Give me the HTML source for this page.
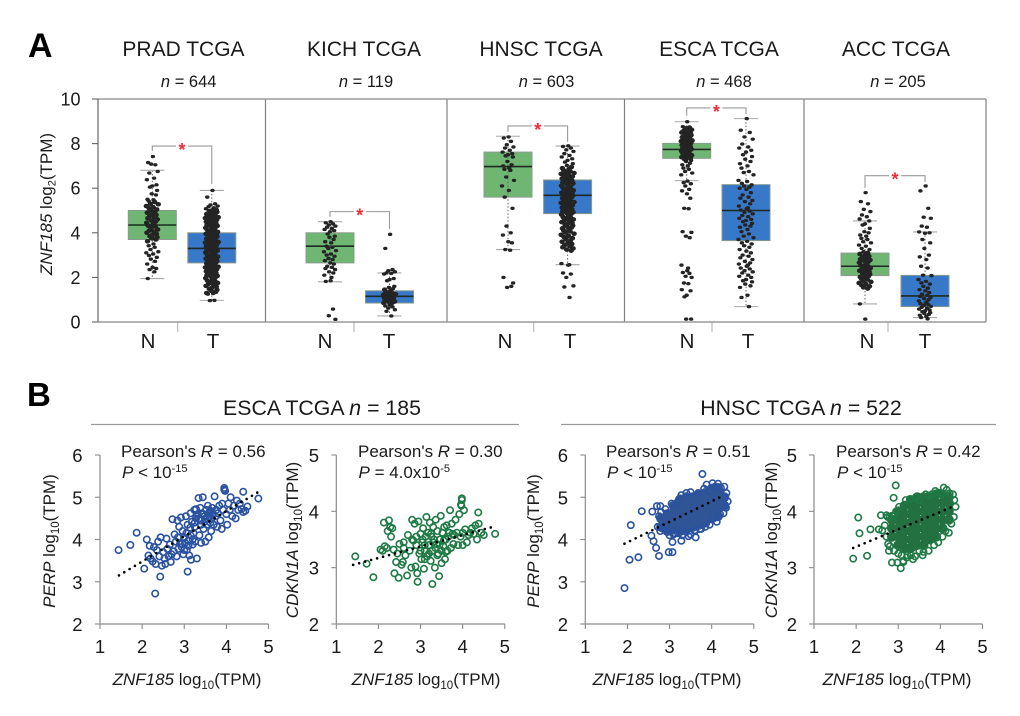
<!DOCTYPE html>
<html lang="en">
<head>
<meta charset="utf-8">
<title>ZNF185 expression across TCGA cohorts</title>
<style>
html,body{margin:0;padding:0;background:#fff}
svg{display:block;font-family:"Liberation Sans",Arial,sans-serif;fill:#1a1a1a}
</style>
</head>
<body>
<svg id="figure" xmlns="http://www.w3.org/2000/svg" width="1020" height="716" viewBox="0 0 1020 716">
  <text x="28" y="57" font-size="34" font-weight="700" fill="#000">A</text>
  <text x="27" y="406" font-size="33" font-weight="700" fill="#000">B</text>

  <text x="183.5" y="56" font-size="21" text-anchor="middle">PRAD TCGA</text>
  <text x="364" y="56" font-size="21" text-anchor="middle">KICH TCGA</text>
  <text x="541" y="56" font-size="21" text-anchor="middle">HNSC TCGA</text>
  <text x="719" y="56" font-size="21" text-anchor="middle">ESCA TCGA</text>
  <text x="896" y="56" font-size="21" text-anchor="middle">ACC TCGA</text>

  <text x="188.7" y="87" font-size="16.5" text-anchor="middle"><tspan font-style="italic">n</tspan> = 644</text>
  <text x="366" y="87" font-size="16.5" text-anchor="middle"><tspan font-style="italic">n</tspan> = 119</text>
  <text x="546.5" y="87" font-size="16.5" text-anchor="middle"><tspan font-style="italic">n</tspan> = 603</text>
  <text x="724" y="87" font-size="16.5" text-anchor="middle"><tspan font-style="italic">n</tspan> = 468</text>
  <text x="898" y="87" font-size="16.5" text-anchor="middle"><tspan font-style="italic">n</tspan> = 205</text>

  <text transform="translate(52,204) rotate(-90)" font-size="17" text-anchor="middle"><tspan font-style="italic">ZNF185</tspan> log<tspan dy="3.5" font-size="11">2</tspan><tspan dy="-3.5">(TPM)</tspan></text>

  <g id="boxLayer"></g>

  <text x="322" y="415" font-size="21.3" text-anchor="middle">ESCA TCGA <tspan font-style="italic">n</tspan> = 185</text>
  <line x1="91" y1="424.5" x2="519" y2="424.5" stroke="#9a9a9a" stroke-width="1.2"/>
  <text x="801" y="415" font-size="21.3" text-anchor="middle">HNSC TCGA <tspan font-style="italic">n</tspan> = 522</text>
  <line x1="561" y1="424.5" x2="996" y2="424.5" stroke="#9a9a9a" stroke-width="1.2"/>

  <g id="scatterLayer"></g>

  <text x="121" y="457" font-size="17">Pearson's <tspan font-style="italic">R</tspan> = 0.56</text>
  <text x="122" y="478" font-size="17"><tspan font-style="italic">P</tspan> &lt; 10<tspan dy="-6" font-size="11">-15</tspan></text>
  <text x="358" y="457" font-size="17">Pearson's <tspan font-style="italic">R</tspan> = 0.30</text>
  <text x="358.5" y="478" font-size="17"><tspan font-style="italic">P</tspan> = 4.0x10<tspan dy="-6" font-size="11">-5</tspan></text>
  <text x="606" y="457" font-size="17">Pearson's <tspan font-style="italic">R</tspan> = 0.51</text>
  <text x="607" y="478" font-size="17"><tspan font-style="italic">P</tspan> &lt; 10<tspan dy="-6" font-size="11">-15</tspan></text>
  <text x="836" y="457" font-size="17">Pearson's <tspan font-style="italic">R</tspan> = 0.42</text>
  <text x="837" y="478" font-size="17"><tspan font-style="italic">P</tspan> &lt; 10<tspan dy="-6" font-size="11">-15</tspan></text>

  <text transform="translate(55,541) rotate(-90)" font-size="17" text-anchor="middle"><tspan font-style="italic">PERP</tspan> log<tspan dy="4" font-size="11.5">10</tspan><tspan dy="-4">(TPM)</tspan></text>
  <text transform="translate(298,540) rotate(-90)" font-size="17" text-anchor="middle"><tspan font-style="italic">CDKN1A</tspan> log<tspan dy="4" font-size="11.5">10</tspan><tspan dy="-4">(TPM)</tspan></text>
  <text transform="translate(539,541) rotate(-90)" font-size="17" text-anchor="middle"><tspan font-style="italic">PERP</tspan> log<tspan dy="4" font-size="11.5">10</tspan><tspan dy="-4">(TPM)</tspan></text>
  <text transform="translate(777,540) rotate(-90)" font-size="17" text-anchor="middle"><tspan font-style="italic">CDKN1A</tspan> log<tspan dy="4" font-size="11.5">10</tspan><tspan dy="-4">(TPM)</tspan></text>

  <text x="187" y="685" font-size="17" text-anchor="middle"><tspan font-style="italic">ZNF185</tspan> log<tspan dy="4" font-size="11.5">10</tspan><tspan dy="-4">(TPM)</tspan></text>
  <text x="426" y="685" font-size="17" text-anchor="middle"><tspan font-style="italic">ZNF185</tspan> log<tspan dy="4" font-size="11.5">10</tspan><tspan dy="-4">(TPM)</tspan></text>
  <text x="667" y="685" font-size="17" text-anchor="middle"><tspan font-style="italic">ZNF185</tspan> log<tspan dy="4" font-size="11.5">10</tspan><tspan dy="-4">(TPM)</tspan></text>
  <text x="897" y="685" font-size="17" text-anchor="middle"><tspan font-style="italic">ZNF185</tspan> log<tspan dy="4" font-size="11.5">10</tspan><tspan dy="-4">(TPM)</tspan></text>
</svg>

<script>
/* ---------- Panel A data ---------- */
const cohorts = ['PRAD','KICH','HNSC','ESCA','ACC'];
const groupLabels = ['N','T'];
const boxTicks = [0,2,4,6,8,10];
const boxTickLabels = ['0','2','4','6','8','10'];

const normalQ1 = [3.7,2.65,5.6,7.34,2.08];
const normalMedian = [4.35,3.4,6.97,7.74,2.5];
const normalQ3 = [5.0,4.0,7.62,8.01,3.09];
const normalLow = [1.95,1.8,3.25,6.34,0.81];
const normalHigh = [6.8,4.5,8.33,8.98,4.53];
const tumorQ1 = [2.65,0.85,4.86,3.65,0.69];
const tumorMedian = [3.3,1.15,5.68,5.0,1.17];
const tumorQ3 = [4.0,1.4,6.37,6.16,2.09];
const tumorLow = [0.97,0.27,2.57,0.69,0.2];
const tumorHigh = [5.9,2.2,7.89,9.12,4.04];
const bracketTop = [7.89,4.95,8.79,9.6,6.56];
const bracketLeftEnd = [7.67,4.72,8.53,9.25,6.02];
const bracketRightEnd = [6.19,4.17,8.08,9.33,6.28];

/* value ranges in which the strip points overplot into a solid column */
const normalDenseFrom = [3.6,99,99,7.3,1.5];
const normalDenseTo = [5.4,99,99,8.75,3.1];
const tumorDenseFrom = [1.3,0.75,3.2,99,99];
const tumorDenseTo = [5.05,1.45,7.0,99,99];

const pradNormalValues = [7.42,7.15,7.05,7.08,6.75,6.68,6.45,6.38,6.15,6.1,6.05,5.9,5.75,5.7,5.5,5.48,5.42,5.38,5.3,5.28,5.2,5.15,5.1,5.05,5.0,4.95,4.9,4.85,4.8,4.75,4.7,4.65,4.6,4.55,4.5,4.45,4.42,4.38,4.32,4.28,4.2,4.15,4.1,4.05,4.0,3.95,3.9,3.85,3.8,3.75,3.7,3.62,3.5,3.42,3.35,3.25,3.15,3.1,3.05,2.98,2.9,2.82,2.72,2.6,2.45,2.4,2.35,2.25,1.95];
const pradTumorValues = [5.9,5.6,5.3,5.25,5.2,5.17,5.12,5.08,5.03,5.0,4.97,4.93,4.91,4.88,4.84,4.82,4.79,4.75,4.73,4.7,4.66,4.64,4.6,4.58,4.55,4.51,4.49,4.46,4.42,4.4,4.37,4.34,4.31,4.28,4.25,4.22,4.19,4.16,4.13,4.1,4.07,4.04,4.01,3.98,3.95,3.92,3.89,3.86,3.83,3.8,3.77,3.74,3.71,3.68,3.65,3.62,3.59,3.56,3.53,3.5,3.47,3.44,3.41,3.38,3.35,3.32,3.29,3.26,3.23,3.2,3.17,3.14,3.11,3.08,3.05,3.02,2.99,2.96,2.93,2.9,2.87,2.84,2.81,2.78,2.75,2.72,2.69,2.66,2.63,2.6,2.57,2.54,2.51,2.48,2.45,2.42,2.39,2.36,2.33,2.3,2.27,2.24,2.2,2.17,2.14,2.1,2.07,2.04,2.0,1.97,1.93,1.9,1.86,1.83,1.79,1.75,1.71,1.67,1.62,1.58,1.53,1.49,1.44,1.4,1.35,1.3,1.28,1.25,0.97,0.96];
const kichNormalValues = [4.5,4.45,4.4,4.35,4.3,4.25,4.2,4.15,4.1,4.05,3.95,3.85,3.8,3.7,3.6,3.55,3.4,3.35,3.3,3.2,3.15,3.05,3.0,2.95,2.85,2.8,2.75,2.65,2.6,2.5,2.45,2.4,2.35,2.25,2.2,2.1,2.0,1.85,1.82,0.58,0.28,0.12];
const kichTumorValues = [3.93,3.3,2.35,2.3,2.25,2.2,2.18,2.15,1.95,1.9,1.85,1.6,1.55,1.5,1.45,1.4,1.35,1.3,1.28,1.25,1.22,1.2,1.18,1.15,1.12,1.1,1.08,1.05,1.02,1.0,0.98,0.95,0.92,0.9,0.88,0.85,0.82,0.78,0.72,0.68,0.62,0.55,0.48,0.27];
const hnscNormalValues = [8.3,8.25,8.1,7.95,7.85,7.8,7.7,7.62,7.55,7.5,7.45,7.4,7.2,7.05,7.0,6.9,6.85,6.8,6.5,6.35,6.1,5.9,5.6,5.1,4.3,4.0,3.9,3.6,3.55,3.25,3.22,2.0,1.75,1.55,1.6];
const hnscTumorValues = [7.9,7.87,7.8,7.72,7.65,7.55,7.47,7.4,7.32,7.25,7.17,7.1,7.02,6.95,6.9,6.85,6.8,6.76,6.72,6.68,6.64,6.6,6.57,6.53,6.5,6.46,6.43,6.39,6.36,6.32,6.29,6.25,6.22,6.18,6.15,6.11,6.08,6.04,6.01,5.97,5.94,5.9,5.87,5.83,5.8,5.76,5.73,5.69,5.66,5.62,5.59,5.55,5.52,5.48,5.45,5.41,5.38,5.34,5.31,5.27,5.24,5.2,5.17,5.13,5.1,5.06,5.03,4.99,4.96,4.92,4.89,4.85,4.82,4.78,4.75,4.71,4.67,4.64,4.6,4.56,4.52,4.48,4.44,4.4,4.36,4.32,4.28,4.24,4.2,4.15,4.1,4.06,4.01,3.96,3.91,3.86,3.81,3.76,3.71,3.66,3.6,3.55,3.5,3.45,3.4,3.35,3.3,3.25,3.2,2.62,2.57,2.55,2.2,2.15,2.0,1.62,1.57,1.1];
const escaNormalValues = [8.98,8.76,8.72,8.68,8.62,8.58,8.54,8.5,8.47,8.44,8.41,8.38,8.35,8.32,8.29,8.26,8.23,8.2,8.17,8.14,8.11,8.08,8.05,8.02,7.99,7.96,7.93,7.9,7.87,7.84,7.81,7.78,7.75,7.72,7.69,7.66,7.63,7.6,7.57,7.54,7.51,7.48,7.45,7.42,7.39,7.36,7.33,7.3,7.25,7.2,7.12,7.05,7.0,6.9,6.85,6.75,6.68,6.6,6.32,6.25,6.2,6.1,5.95,5.88,5.75,5.55,5.1,5.08,4.05,4.02,3.85,3.78,2.55,2.42,2.3,2.22,2.18,2.05,2.0,1.75,1.72,1.45,1.4,1.2,1.13,0.13,0.13];
const escaTumorValues = [9.12,8.6,8.5,8.3,8.2,7.98,7.85,7.8,7.7,7.62,7.5,7.42,7.3,7.2,7.1,7.0,6.9,6.75,6.7,6.6,6.35,6.3,6.22,6.15,6.1,6.05,6.0,5.95,5.8,5.7,5.6,5.55,5.45,5.4,5.3,5.2,5.12,5.08,5.02,4.98,4.92,4.85,4.78,4.72,4.65,4.6,4.55,4.5,4.42,4.35,4.3,4.25,4.15,4.05,3.95,3.85,3.78,3.7,3.62,3.55,3.5,3.42,3.35,3.25,3.18,3.1,3.0,2.95,2.88,2.8,2.72,2.65,2.6,2.55,2.5,2.42,2.38,2.3,2.25,2.2,2.1,2.05,2.0,1.9,1.85,1.8,1.7,1.62,1.55,1.2,1.1,0.69];
const accNormalValues = [5.8,5.4,5.3,5.05,4.95,4.8,4.72,4.62,4.53,4.4,4.35,4.2,4.05,4.0,3.9,3.85,3.75,3.7,3.6,3.55,3.45,3.4,3.3,3.25,3.15,3.1,3.05,3.0,2.95,2.9,2.85,2.82,2.78,2.74,2.7,2.66,2.62,2.58,2.54,2.5,2.46,2.42,2.38,2.34,2.3,2.26,2.22,2.18,2.14,2.1,2.06,2.02,1.98,1.94,1.9,1.85,1.8,1.75,1.7,1.65,1.6,1.55,1.5,0.81,0.13];
const accTumorValues = [6.1,5.88,5.1,4.7,4.65,4.3,4.25,4.04,4.0,3.98,3.7,3.55,3.3,3.0,2.92,2.8,2.5,2.42,2.1,2.08,1.9,1.82,1.75,1.7,1.6,1.52,1.45,1.4,1.32,1.25,1.2,1.15,1.1,1.05,1.0,0.95,0.9,0.85,0.82,0.78,0.74,0.7,0.66,0.62,0.58,0.54,0.5,0.46,0.42,0.38,0.34,0.3,0.25,0.2,0.14];

const pointJitter = [.1,-.7,.5,-.2,.9,-.5,.3,-.9,.7,0,-.4,.8,-.1,.6,-.8,.2,-.6,.4,-.3,1,-1,.15,-.55,.75,-.25,.45,-.85,.05,.65,-.45,.35,-.75,.85,-.15,.55,-.95,.25];

/* ---------- Panel B data ---------- */
const scatterXTicks = [1,2,3,4,5];
const perpYTicks = [2,3,4,5,6];
const cdkn1aYTicks = [2,3,4,5];

const escaPerpX = [1.44,1.72,1.87,2.05,2.11,2.31,2.43,3.08,4.76,4.4,
 2.15,2.18,2.2,2.25,2.28,2.32,2.35,2.38,2.41,2.44,
 2.47,2.5,2.53,2.55,2.58,2.6,2.63,2.66,2.68,2.7,
 2.72,2.75,2.77,2.8,2.82,2.84,2.86,2.88,2.9,2.92,
 2.94,2.96,2.98,3.0,3.02,3.04,3.06,3.08,3.1,3.12,
 3.14,3.16,3.18,3.2,3.22,3.24,3.26,3.28,3.3,3.32,
 3.34,3.36,3.38,3.4,3.42,3.44,3.46,3.48,3.5,3.52,
 3.54,3.56,3.58,3.6,3.62,3.64,3.66,3.68,3.7,3.72,
 3.74,3.76,3.78,3.8,3.83,3.86,3.89,3.92,3.95,3.97,
 4.0,4.02,4.05,4.08,4.1,4.14,4.18,4.22,4.25,4.28,
 4.32,4.36,4.4,4.45,4.5,3.25,3.35,3.45,3.55,3.4,
 3.5,3.6,3.3,3.65,3.25,3.15,3.05,2.95,3.0,3.1,
 3.2,2.85,3.9,3.95,3.15,3.48,3.38,3.58,3.28,3.62];
const escaPerpY = [3.75,3.87,4.16,3.31,4.0,2.72,3.12,3.24,4.97,5.13,
 3.62,3.85,3.55,3.48,3.82,3.42,3.75,3.95,3.6,4.05,
 3.38,3.7,3.55,3.42,4.02,3.78,3.6,3.88,3.47,3.65,
 4.48,3.72,4.12,3.95,3.6,4.45,3.78,4.3,3.9,4.52,
 3.82,4.2,3.65,4.05,3.92,4.55,3.75,4.35,3.98,3.62,
 4.28,3.52,4.42,3.88,4.15,4.7,3.95,4.5,3.55,4.6,
 4.98,4.1,4.45,3.92,4.62,5.0,4.25,4.55,3.95,4.7,
 4.35,4.8,4.05,4.55,4.68,4.2,4.75,4.6,4.35,5.02,
 4.55,4.7,4.3,4.62,4.8,4.45,4.25,4.7,5.22,5.15,
 4.6,4.35,4.85,4.7,5.0,4.55,4.8,4.5,4.92,4.7,
 4.85,4.72,4.65,4.68,4.78,4.4,4.5,4.6,4.5,4.35,
 4.48,4.65,4.55,4.5,4.3,4.1,4.15,3.9,3.75,3.85,
 4.0,4.05,4.85,5.18,4.62,4.42,4.75,4.62,4.72,4.4];
const escaPerpTrendX = [1.45,4.75];
const escaPerpTrendY = [3.15,5.12];

const escaCdknX = [1.45,1.72,1.88,3.28,2.93,2.25,2.13,3.98,4.77,4.37,
 2.05,2.1,2.15,2.2,2.22,2.28,2.3,2.33,2.36,2.38,
 2.42,2.45,2.48,2.5,2.55,2.58,2.6,2.64,2.68,2.7,
 2.74,2.78,2.8,2.83,2.86,2.88,2.9,2.92,2.95,2.97,
 3.0,3.02,3.04,3.06,3.08,3.1,3.12,3.14,3.16,3.18,
 3.2,3.22,3.24,3.26,3.28,3.3,3.32,3.34,3.36,3.38,
 3.4,3.42,3.44,3.46,3.48,3.5,3.52,3.54,3.56,3.58,
 3.6,3.62,3.64,3.66,3.68,3.7,3.72,3.74,3.76,3.78,
 3.8,3.83,3.86,3.89,3.92,3.95,3.97,4.0,4.03,4.06,
 4.1,4.14,4.18,4.22,4.26,4.3,4.34,4.38,4.44,4.5,
 3.1,3.2,3.3,3.0,3.25,3.35,3.15,3.05,3.45,3.55,
 2.9,3.1,3.4,3.5,3.6,3.98,3.96,2.8,2.6,4.0];
const escaCdknY = [3.2,3.07,2.83,2.71,2.75,3.84,3.8,4.23,3.6,3.98,
 3.32,3.3,3.38,3.35,3.65,3.72,3.55,3.7,3.32,2.9,
 3.1,3.25,2.82,3.42,3.05,3.1,3.45,3.22,2.86,3.58,
 3.3,3.0,3.85,3.48,3.78,3.02,3.55,2.9,3.82,3.25,
 3.6,3.15,3.45,3.7,2.98,3.3,3.55,3.9,3.2,3.62,
 3.4,3.8,3.12,3.55,3.3,3.72,3.5,3.0,3.85,3.42,
 3.65,3.25,2.85,3.5,3.92,3.08,3.62,3.38,3.72,3.15,
 3.5,3.75,3.3,3.55,3.62,4.02,3.35,3.78,3.6,3.42,
 3.58,3.85,3.62,3.4,3.95,3.55,4.1,3.4,4.02,3.68,
 3.45,3.58,3.62,3.7,3.6,3.75,3.5,3.78,3.62,3.58,
 3.4,3.25,3.45,3.3,3.6,3.35,3.2,3.5,3.4,3.48,
 3.4,3.15,3.22,3.3,3.28,4.2,4.12,3.5,3.35,3.62];
const escaCdknTrendX = [1.4,4.7];
const escaCdknTrendY = [3.05,3.72];

const hnscPerpX = [1.93,2.05,2.26,2.08,2.34,2.59,2.57,2.62,2.68,2.75,2.98,3.07,3.07,3.28,3.62,3.78,2.7,2.78,
 2.72,2.75,2.8,2.85,2.9,2.98,3.05,3.12,3.2,3.28,3.32,3.4,3.45,3.5,3.6,3.68,3.75,3.82,3.88,3.95,4.02,4.08,4.15,4.22,4.3,4.35,4.38,4.34,4.28,4.2,4.12,4.05,3.95,3.85,3.72,3.6,3.5,3.4,3.3,3.2,3.1,3.0,2.92,2.85,2.78];
const hnscPerpY = [2.85,3.52,3.58,4.34,4.67,4.66,4.09,3.96,3.8,3.61,3.7,3.7,3.94,3.97,4.05,5.55,4.79,4.79,
 4.3,4.55,4.65,4.25,4.72,4.2,4.85,4.15,4.9,5.05,4.12,5.1,4.08,5.12,4.2,5.1,4.25,5.2,5.3,5.15,5.33,5.25,5.32,5.22,5.25,5.1,4.9,4.75,4.62,4.6,4.42,4.5,4.35,4.3,4.25,4.22,4.12,4.18,4.1,4.15,4.12,4.1,4.22,4.3,4.2];
const hnscPerpCoreX = [2.8,2.8,2.95,2.95,2.95,3.1,3.1,3.1,3.1,3.25,3.25,3.25,3.25,3.25,3.4,3.4,3.4,3.4,3.4,3.55,3.55,3.55,3.55,3.55,3.7,3.7,3.7,3.7,3.7,3.85,3.85,3.85,3.85,3.85,4.0,4.0,4.0,4.0,4.0,4.15,4.15,4.15,4.15,4.15,4.3,4.3];
const hnscPerpCoreY = [4.3,4.5,4.2,4.4,4.6,4.25,4.45,4.65,4.8,4.2,4.4,4.6,4.8,4.95,4.25,4.45,4.65,4.85,5.0,4.3,4.5,4.7,4.9,5.0,4.35,4.55,4.75,4.95,5.05,4.4,4.6,4.8,5.0,5.1,4.5,4.7,4.9,5.1,5.2,4.55,4.75,4.95,5.15,5.22,4.8,5.0];
const hnscPerpTrendX = [1.93,4.3];
const hnscPerpTrendY = [3.9,5.05];

const hnscCdknX = [1.93,2.05,2.08,2.26,2.34,2.54,2.62,2.94,2.89,2.59,2.72,2.85,3.06,2.98,
 2.68,2.72,2.76,2.8,2.85,2.9,2.95,3.0,3.02,3.08,3.12,3.18,3.22,3.28,3.35,3.42,3.5,3.58,3.65,3.72,3.8,3.88,3.95,4.02,4.08,4.15,4.22,4.3,4.33,4.36,4.32,4.26,4.2,4.12,4.05,3.95,3.85,3.72,3.6,3.5,3.4,3.3,3.2,3.12,2.75,2.8,2.9,2.78];
const hnscCdknY = [3.16,3.89,3.61,3.21,3.68,3.68,3.66,4.46,4.24,3.93,3.93,3.09,2.99,3.09,
 3.75,3.55,3.42,3.38,3.92,3.3,4.0,3.25,4.08,3.22,3.12,4.2,3.22,4.22,3.15,4.25,4.2,3.22,4.3,4.28,4.3,4.36,4.33,4.3,4.42,4.38,4.32,4.3,4.2,4.08,3.9,3.78,3.62,3.65,3.55,3.45,3.4,3.3,3.28,3.3,3.2,3.22,3.18,3.1,3.9,3.9,3.92,3.3];
const hnscCdknCoreX = [2.85,2.85,2.85,3.0,3.0,3.0,3.0,3.0,3.15,3.15,3.15,3.15,3.15,3.15,3.3,3.3,3.3,3.3,3.3,3.3,3.3,3.45,3.45,3.45,3.45,3.45,3.45,3.45,3.6,3.6,3.6,3.6,3.6,3.6,3.6,3.75,3.75,3.75,3.75,3.75,3.75,3.9,3.9,3.9,3.9,3.9,3.9,4.05,4.05,4.05,4.05,4.05,4.2,4.2,4.2,4.2];
const hnscCdknCoreY = [3.55,3.7,3.85,3.4,3.55,3.7,3.85,4.0,3.35,3.5,3.65,3.8,3.95,4.1,3.35,3.5,3.65,3.8,3.95,4.1,4.2,3.4,3.55,3.7,3.85,4.0,4.15,4.25,3.4,3.55,3.7,3.85,4.0,4.15,4.25,3.5,3.65,3.8,3.95,4.1,4.25,3.55,3.7,3.85,4.0,4.15,4.3,3.7,3.85,4.0,4.15,4.3,3.85,4.0,4.15,4.25];
const hnscCdknTrendX = [1.93,4.35];
const hnscCdknTrendY = [3.35,4.1];

/* ---------- Layout (not data) ---------- */
const boxLayout = {left:98,right:986,top:99,bottom:322,yMax:10,capHalf:12,boxHalf:24};
const normalCenters = [152.3,330,508,686.7,865];
const tumorCenters = [211.8,389.5,567.6,746,925];
const groupLabelNX = [148,325,505,687,867];
const groupLabelTX = [213,389,570,748,925];
const splitTickX = [177.7,354,533.7,712,888];
const dividerX = [265.5,447,624.5,804];
const normalPoints = [pradNormalValues,kichNormalValues,hnscNormalValues,escaNormalValues,accNormalValues];
const tumorPoints = [pradTumorValues,kichTumorValues,hnscTumorValues,escaTumorValues,accTumorValues];
const normalSpread = [6,6,6,5.5,6];
const tumorSpread = [6.5,6,6.5,7.5,6.5];

const NS = 'http://www.w3.org/2000/svg';
function mk(parent, tag, attrs, text){
  const el = document.createElementNS(NS, tag);
  for(const k in attrs) el.setAttribute(k, attrs[k]);
  if(text !== undefined) el.textContent = text;
  parent.appendChild(el);
  
  return el;
}
const boxLayer = document.getElementById('boxLayer');
const yA = v => boxLayout.bottom - (boxLayout.bottom - boxLayout.top) * v / boxLayout.yMax;

function drawBox(g, cx, q1, med, q3, lo, hi, fill, values, spread, denseFrom, denseTo, label){
  const H = boxLayout.boxHalf, C = boxLayout.capHalf;
  const b = mk(g,'rect',{x:cx-H,y:yA(q3),width:2*H,height:yA(q1)-yA(q3),fill:fill,stroke:'#8b9a8e','stroke-width':1});
  
  const m = mk(g,'line',{x1:cx-H,x2:cx+H,y1:yA(med),y2:yA(med),stroke:'#1c2a22','stroke-width':1.6});
  
  const w = mk(g,'line',{x1:cx,x2:cx,y1:yA(hi),y2:yA(lo),stroke:'#666','stroke-width':1,'stroke-dasharray':'1.5 2'});
  
  const c1 = mk(g,'line',{x1:cx-C,x2:cx+C,y1:yA(hi),y2:yA(hi),stroke:'#a8a8a8','stroke-width':1.1});
  
  const c2 = mk(g,'line',{x1:cx-C,x2:cx+C,y1:yA(lo),y2:yA(lo),stroke:'#a8a8a8','stroke-width':1.1});
  
  values.forEach((v,i)=>{
    const dense = v >= denseFrom && v <= denseTo;
    const p = mk(g,'ellipse',{cx:cx+pointJitter[i%pointJitter.length]*spread,cy:yA(v),rx:dense?2.7:2.2,ry:dense?2.3:1.7,fill:'#242424'});
    
  });
}

cohorts.forEach((name,i)=>{
  const g = mk(boxLayer,'g',{});
  
  const key = name.toLowerCase();
  drawBox(g,normalCenters[i],normalQ1[i],normalMedian[i],normalQ3[i],normalLow[i],normalHigh[i],'#6fb672',normalPoints[i],normalSpread[i],normalDenseFrom[i],normalDenseTo[i],key+'-normal');
  drawBox(g,tumorCenters[i],tumorQ1[i],tumorMedian[i],tumorQ3[i],tumorLow[i],tumorHigh[i],'#3878c8',tumorPoints[i],tumorSpread[i],tumorDenseFrom[i],tumorDenseTo[i],key+'-tumor');

  const xl = normalCenters[i], xr = tumorCenters[i], xm = (xl+xr)/2, yt = yA(bracketTop[i]);
  const br1 = mk(g,'polyline',{points:`${xl},${yA(bracketLeftEnd[i])} ${xl},${yt} ${xm-6},${yt}`,fill:'none',stroke:'#999','stroke-width':1.1});
  
  const br2 = mk(g,'polyline',{points:`${xm+6},${yt} ${xr},${yt} ${xr},${yA(bracketRightEnd[i])}`,fill:'none',stroke:'#999','stroke-width':1.1});
  
  const star = mk(g,'text',{x:xm,y:yt+10,'text-anchor':'middle','font-size':18,'font-weight':700,fill:'#ee2b3b',style:'fill:#ee2b3b'},'*');
  

  const tn = mk(g,'text',{x:groupLabelNX[i],y:348,'text-anchor':'middle','font-size':20.5},groupLabels[0]);
  
  const tt = mk(g,'text',{x:groupLabelTX[i],y:348,'text-anchor':'middle','font-size':20.5},groupLabels[1]);
  
  const st = mk(g,'line',{x1:splitTickX[i],x2:splitTickX[i],y1:boxLayout.bottom,y2:boxLayout.bottom+10,stroke:'#b5b5b5','stroke-width':1.1});
  
});

dividerX.forEach(x=>{
  const d = mk(boxLayer,'line',{x1:x,x2:x,y1:boxLayout.top,y2:boxLayout.bottom,stroke:'#808080','stroke-width':1.2});
  
});
const frameTop = mk(boxLayer,'line',{x1:boxLayout.left,x2:boxLayout.right,y1:boxLayout.top,y2:boxLayout.top,stroke:'#888','stroke-width':1.3});

const frameBottom = mk(boxLayer,'line',{x1:boxLayout.left,x2:boxLayout.right,y1:boxLayout.bottom,y2:boxLayout.bottom,stroke:'#888','stroke-width':1.3});

const frameRight = mk(boxLayer,'line',{x1:boxLayout.right,x2:boxLayout.right,y1:boxLayout.top,y2:boxLayout.bottom,stroke:'#777','stroke-width':1.1});

const frameLeft = mk(boxLayer,'line',{x1:boxLayout.left,x2:boxLayout.left,y1:boxLayout.top,y2:boxLayout.bottom,stroke:'#666','stroke-width':1.2});

boxTicks.forEach((v,i)=>{
  const t = mk(boxLayer,'line',{x1:92,x2:boxLayout.left,y1:yA(v),y2:yA(v),stroke:'#666','stroke-width':1.1});
  
  const l = mk(boxLayer,'text',{x:80.5,y:yA(v)+6.5,'text-anchor':'end','font-size':18},boxTickLabels[i]);
  
});

/* ---------- Scatter panels ---------- */
const scatterLayer = document.getElementById('scatterLayer');
const scatterPanels = [
 {key:'esca-perp',left:100,yTicks:perpYTicks,x:escaPerpX,y:escaPerpY,coreX:[],coreY:[],tx:escaPerpTrendX,ty:escaPerpTrendY,color:'#2a52a0',core:'#2f5596',labelX:82.5},
 {key:'esca-cdkn1a',left:336.3,yTicks:cdkn1aYTicks,x:escaCdknX,y:escaCdknY,coreX:[],coreY:[],tx:escaCdknTrendX,ty:escaCdknTrendY,color:'#1f7a45',core:'#237040',labelX:319},
 {key:'hnsc-perp',left:585.3,yTicks:perpYTicks,x:hnscPerpX,y:hnscPerpY,coreX:hnscPerpCoreX,coreY:hnscPerpCoreY,tx:hnscPerpTrendX,ty:hnscPerpTrendY,color:'#2a52a0',core:'#2f5596',labelX:568},
 {key:'hnsc-cdkn1a',left:814,yTicks:cdkn1aYTicks,x:hnscCdknX,y:hnscCdknY,coreX:hnscCdknCoreX,coreY:hnscCdknCoreY,tx:hnscCdknTrendX,ty:hnscCdknTrendY,color:'#1f7a45',core:'#237040',labelX:797}
];
const plotTop = 455, plotBottom = 624, plotWidth = 168.5;

scatterPanels.forEach(p=>{
  const g = mk(scatterLayer,'g',{});
  
  const yMin = p.yTicks[0], yMax = p.yTicks[p.yTicks.length-1];
  const sx = v => p.left + (v-1)/4*plotWidth;
  const sy = v => plotBottom - (v-yMin)/(yMax-yMin)*(plotBottom-plotTop);

  const ay = mk(g,'line',{x1:p.left,x2:p.left,y1:plotTop,y2:plotBottom,stroke:'#8a8a8a','stroke-width':1.2});
  
  const ax = mk(g,'line',{x1:p.left,x2:p.left+plotWidth,y1:plotBottom,y2:plotBottom,stroke:'#8a8a8a','stroke-width':1.2});
  
  p.yTicks.forEach(v=>{
    const t = mk(g,'line',{x1:p.left-5,x2:p.left,y1:sy(v),y2:sy(v),stroke:'#8a8a8a','stroke-width':1.1});
    
    const l = mk(g,'text',{x:p.labelX,y:sy(v)+7,'text-anchor':'end','font-size':18.5},String(v));
    
  });
  scatterXTicks.forEach(v=>{
    const t = mk(g,'line',{x1:sx(v),x2:sx(v),y1:plotBottom,y2:plotBottom+5,stroke:'#8a8a8a','stroke-width':1.1});
    
    const l = mk(g,'text',{x:sx(v),y:653,'text-anchor':'middle','font-size':18.5},String(v));
    
  });
  p.coreX.forEach((v,i)=>{
    const c = mk(g,'circle',{cx:sx(v),cy:sy(p.coreY[i]),r:5,fill:p.core});
    
  });
  p.x.forEach((v,i)=>{
    const c = mk(g,'circle',{cx:sx(v),cy:sy(p.y[i]),r:3.2,fill:'none',stroke:p.color,'stroke-width':1.6});
    
  });
  const tl = mk(g,'line',{x1:sx(p.tx[0]),y1:sy(p.ty[0]),x2:sx(p.tx[1]),y2:sy(p.ty[1]),stroke:'#000','stroke-width':2.6,'stroke-linecap':'round','stroke-dasharray':'0 6.2'});
  
});
</script>
</body>
</html>
